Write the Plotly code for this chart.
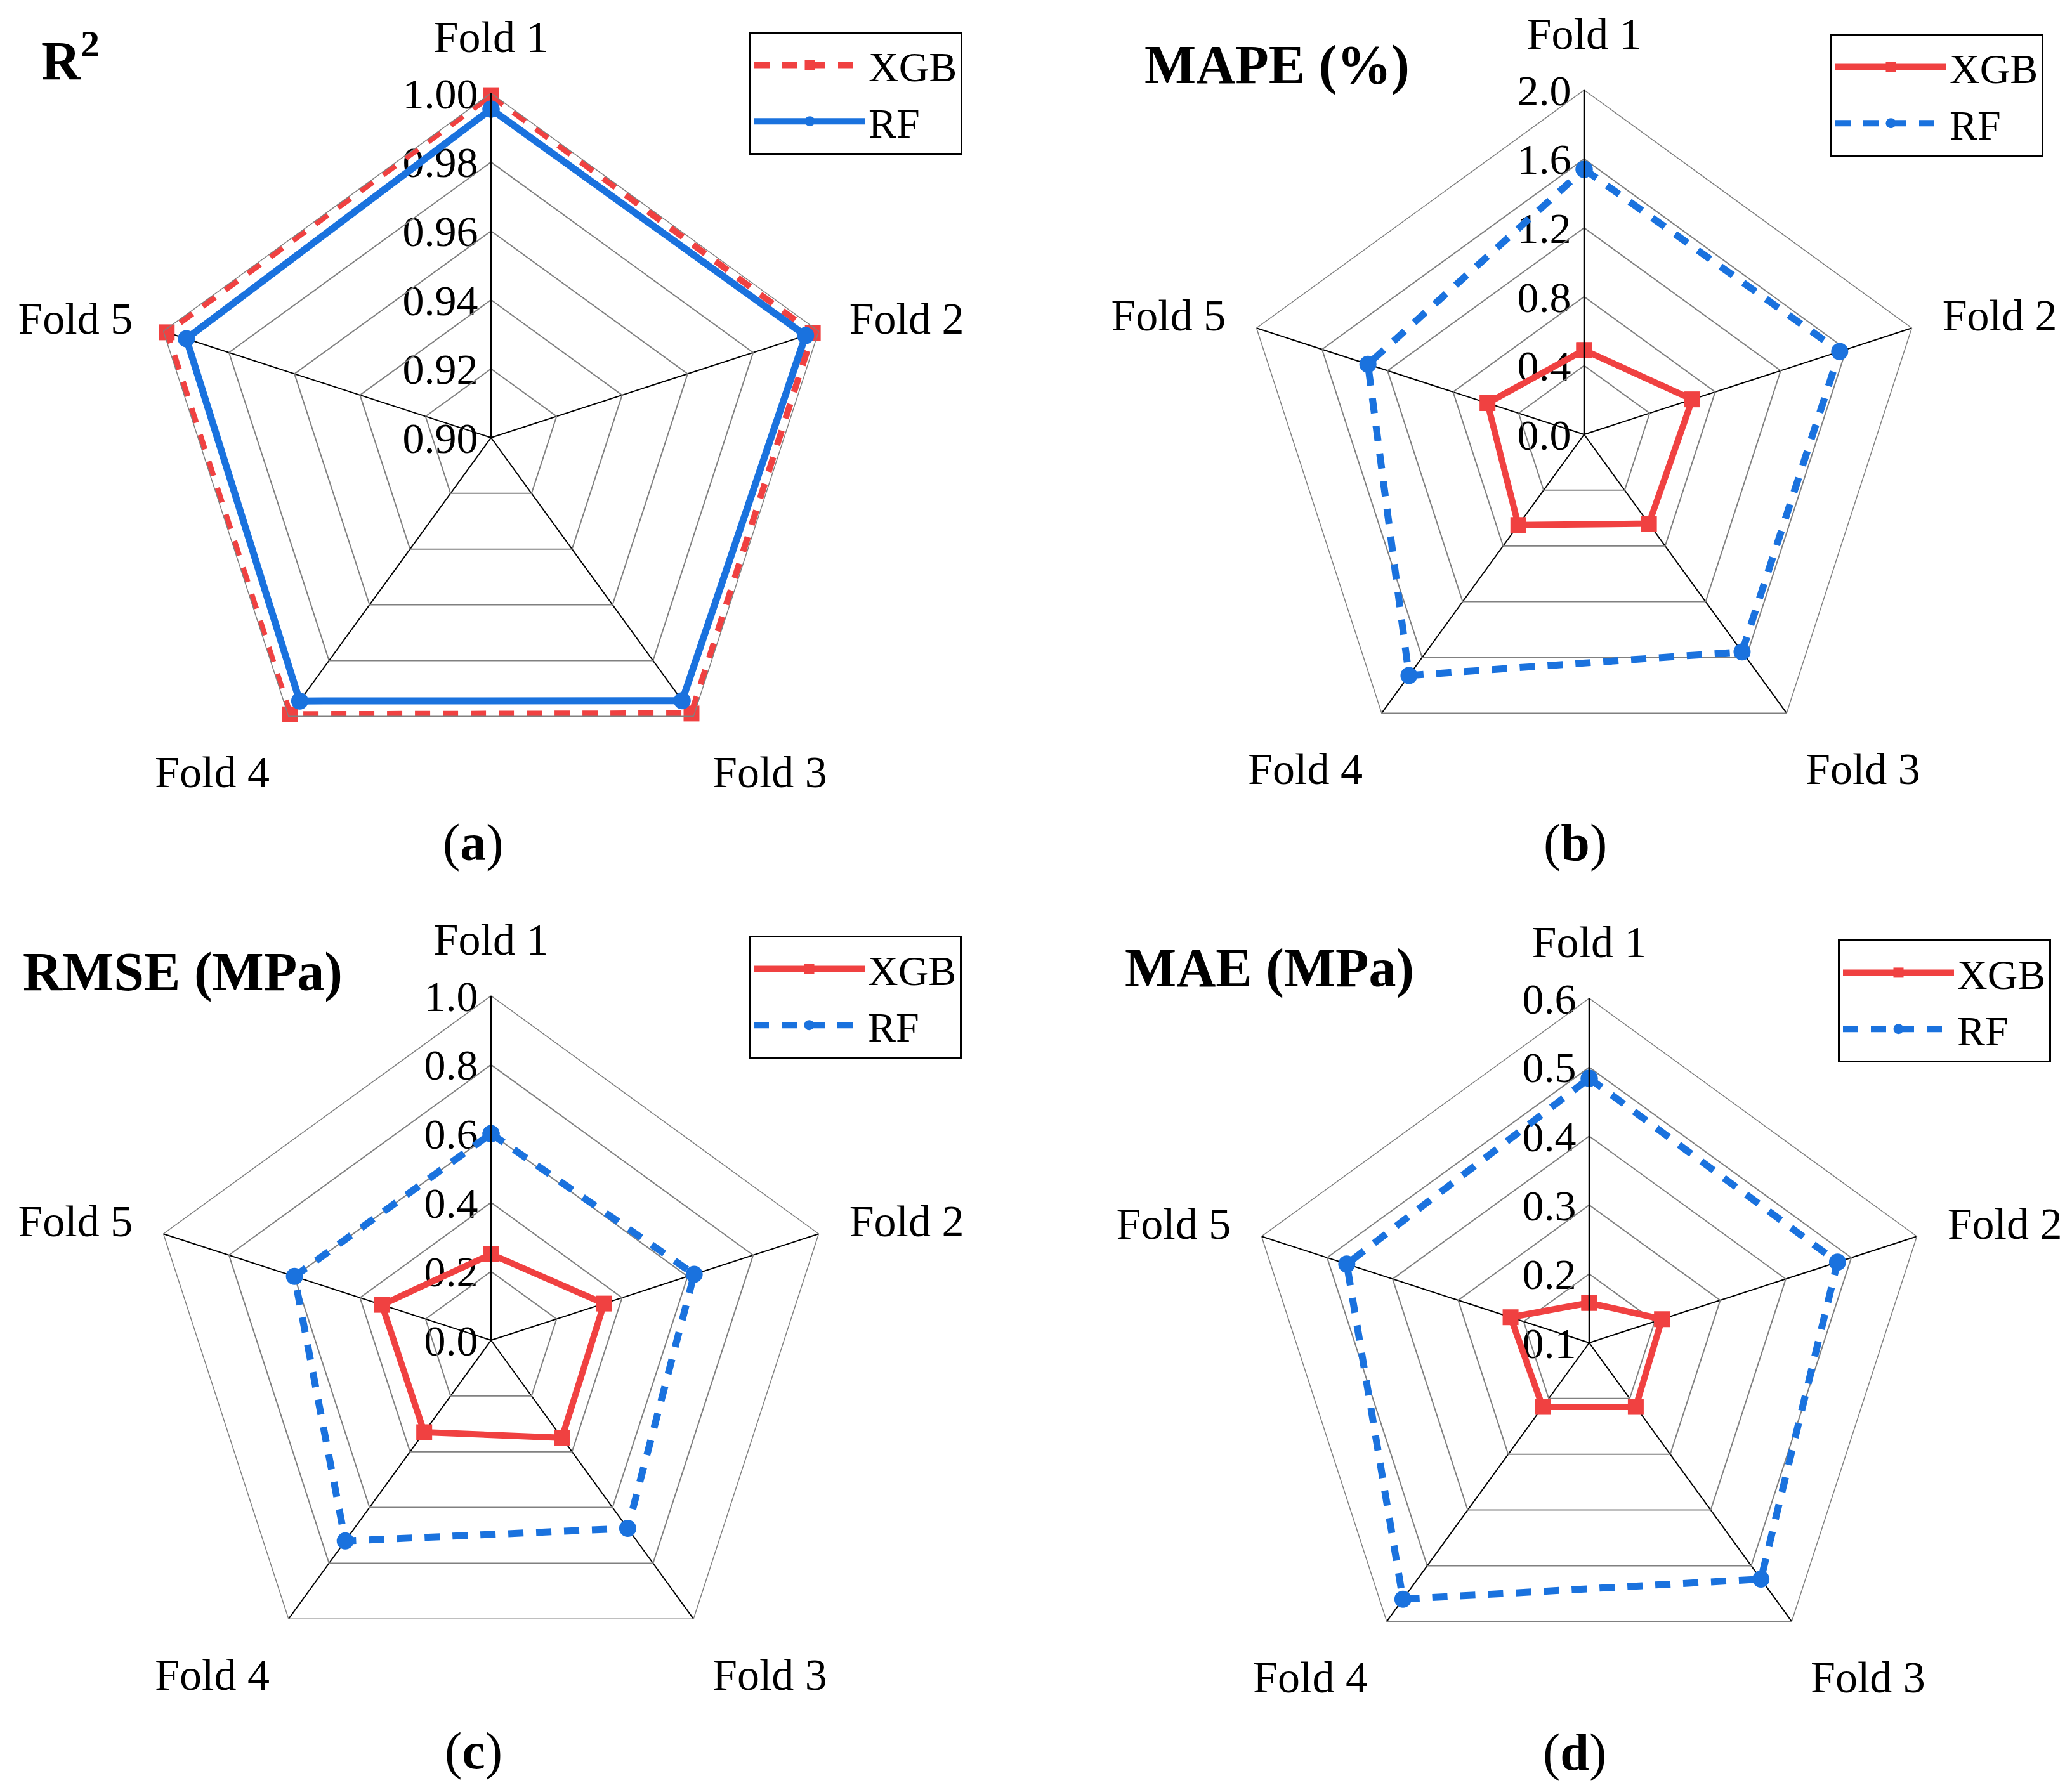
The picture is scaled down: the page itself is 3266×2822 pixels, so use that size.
import plotly.graph_objects as go

folds = ["Fold 1", "Fold 2", "Fold 3", "Fold 4", "Fold 5"]

r2_xgb = [0.9994, 0.9982, 0.9990, 0.9993, 0.9990]
r2_rf = [0.9954, 0.9960, 0.9944, 0.9945, 0.9930]

mape_xgb = [0.49, 0.66, 0.64, 0.65, 0.59]
mape_rf = [1.54, 1.56, 1.56, 1.73, 1.32]

rmse_xgb = [0.25, 0.345, 0.35, 0.33, 0.333]
rmse_rf = [0.60, 0.62, 0.675, 0.72, 0.60]

mae_xgb = [0.158, 0.211, 0.215, 0.215, 0.22]
mae_rf = [0.484, 0.479, 0.524, 0.56, 0.47]

r2_ticks = [0.90, 0.92, 0.94, 0.96, 0.98, 1.00]
mape_ticks = [0.0, 0.4, 0.8, 1.2, 1.6, 2.0]
rmse_ticks = [0.0, 0.2, 0.4, 0.6, 0.8, 1.0]
mae_ticks = [0.1, 0.2, 0.3, 0.4, 0.5, 0.6]

titles = ["<b>R<sup>2</sup></b>", "<b>MAPE (%)</b>", "<b>RMSE (MPa)</b>", "<b>MAE (MPa)</b>"]
panel_tags = ["(<b>a</b>)", "(<b>b</b>)", "(<b>c</b>)", "(<b>d</b>)"]

RED = "#F04141"
BLUE = "#1A72DE"
FONT = "Liberation Serif"
W, H = 3266, 2822

panels = [
    dict(xgb=r2_xgb, rf=r2_rf, ticks=r2_ticks, fmt=".2f", xgb_dash="24px,20px", rf_dash="solid",
         center=(766, 682), legend=(1173, 42), title=(55, 82), tag=(738, 1320)),
    dict(xgb=mape_xgb, rf=mape_rf, ticks=mape_ticks, fmt=".1f", xgb_dash="solid", rf_dash="24px,20px",
         center=(2489, 677), legend=(2877, 45), title=(1794, 94), tag=(2475, 1320)),
    dict(xgb=rmse_xgb, rf=rmse_rf, ticks=rmse_ticks, fmt=".1f", xgb_dash="solid", rf_dash="24px,20px",
         center=(766, 2105), legend=(1172, 1467), title=(26, 1524), tag=(738, 2752)),
    dict(xgb=mae_xgb, rf=mae_rf, ticks=mae_ticks, fmt=".1f", xgb_dash="solid", rf_dash="24px,20px",
         center=(2497, 2109), legend=(2889, 1473), title=(1763, 1518), tag=(2474, 2754)),
]

R = 543
fig = go.Figure()
layout = {}
annotations = []
for i, p in enumerate(panels):
    k = "" if i == 0 else str(i + 1)
    sub = "polar" + k
    leg = "legend" + k
    cx, cy = p["center"]
    ticks = p["ticks"]
    ttext = [format(t, p["fmt"]) for t in ticks]

    # invisible cartesian trace: its y axis carries the radial tick labels
    fig.add_trace(go.Scatter(x=[0.5], y=[ticks[0]], xaxis="x" + k, yaxis="y" + k, mode="markers",
                             marker=dict(size=1, color="rgba(0,0,0,0)"), showlegend=False,
                             hoverinfo="skip"))

    theta = folds + [folds[0]]
    fig.add_trace(go.Scatterpolar(
        r=p["xgb"] + [p["xgb"][0]], theta=theta, name="XGB", subplot=sub, legend=leg,
        mode="lines+markers",
        line=dict(color=RED, width=10, dash=p["xgb_dash"]),
        marker=dict(symbol="square", size=25, color=RED),
    ))
    fig.add_trace(go.Scatterpolar(
        r=p["rf"] + [p["rf"][0]], theta=theta, name="RF", subplot=sub, legend=leg,
        mode="lines+markers",
        line=dict(color=BLUE, width=11, dash=p["rf_dash"]),
        marker=dict(symbol="circle", size=27, color=BLUE),
    ))
    layout[sub] = dict(
        domain=dict(x=[(cx - R) / W, (cx + R) / W], y=[1 - (cy + R) / H, 1 - (cy - R) / H]),
        gridshape="linear",
        bgcolor="rgba(0,0,0,0)",
        radialaxis=dict(
            range=[ticks[0], ticks[-1]], tickvals=ticks, showticklabels=False,
            angle=90, showline=True, linecolor="black", linewidth=2.5,
            gridcolor="#808080", gridwidth=1.5, ticks="",
        ),
        angularaxis=dict(
            type="category", categoryarray=folds, direction="clockwise", rotation=90,
            showline=True, linecolor="#808080", linewidth=1.5,
            gridcolor="black", gridwidth=2,
            ticks="outside", ticklen=36, tickcolor="rgba(0,0,0,0)",
            tickfont=dict(family=FONT, size=70, color="black"),
        ),
    )
    layout["xaxis" + k] = dict(domain=[cx / W, min(1, cx / W + 0.05)], anchor="y" + k, visible=False,
                               range=[0, 1], fixedrange=True, automargin=False)
    layout["yaxis" + k] = dict(domain=[1 - cy / H, 1 - (cy - R) / H], anchor="x" + k,
                               range=[ticks[0], ticks[-1]], tickvals=ticks, ticktext=ttext,
                               showgrid=False, zeroline=False, showline=False, automargin=False,
                               ticks="outside", ticklen=6, tickcolor="rgba(0,0,0,0)",
                               tickfont=dict(family=FONT, size=68, color="black"), fixedrange=True)
    lx, ly = p["legend"]
    layout[leg] = dict(
        x=lx / W, y=1 - ly / H, xanchor="left", yanchor="top",
        bordercolor="black", borderwidth=3, bgcolor="white",
        font=dict(family=FONT, size=66, color="black"),
        itemwidth=175, tracegroupgap=0,
    )
    tx, ty = p["title"]
    annotations.append(dict(text=titles[i], x=tx / W, y=1 - ty / H, xref="paper", yref="paper",
                            xanchor="left", yanchor="middle", showarrow=False,
                            font=dict(family=FONT, size=86, color="black")))
    gx, gy = p["tag"]
    annotations.append(dict(text=panel_tags[i], x=gx / W, y=1 - gy / H, xref="paper", yref="paper",
                            xanchor="center", yanchor="middle", showarrow=False,
                            font=dict(family=FONT, size=82, color="black")))

fig.update_layout(
    width=W, height=H, margin=dict(l=0, r=0, t=0, b=0, autoexpand=False),
    paper_bgcolor="white", plot_bgcolor="rgba(0,0,0,0)", showlegend=True,
    annotations=annotations, **layout,
)
fig.write_html("out.html")
